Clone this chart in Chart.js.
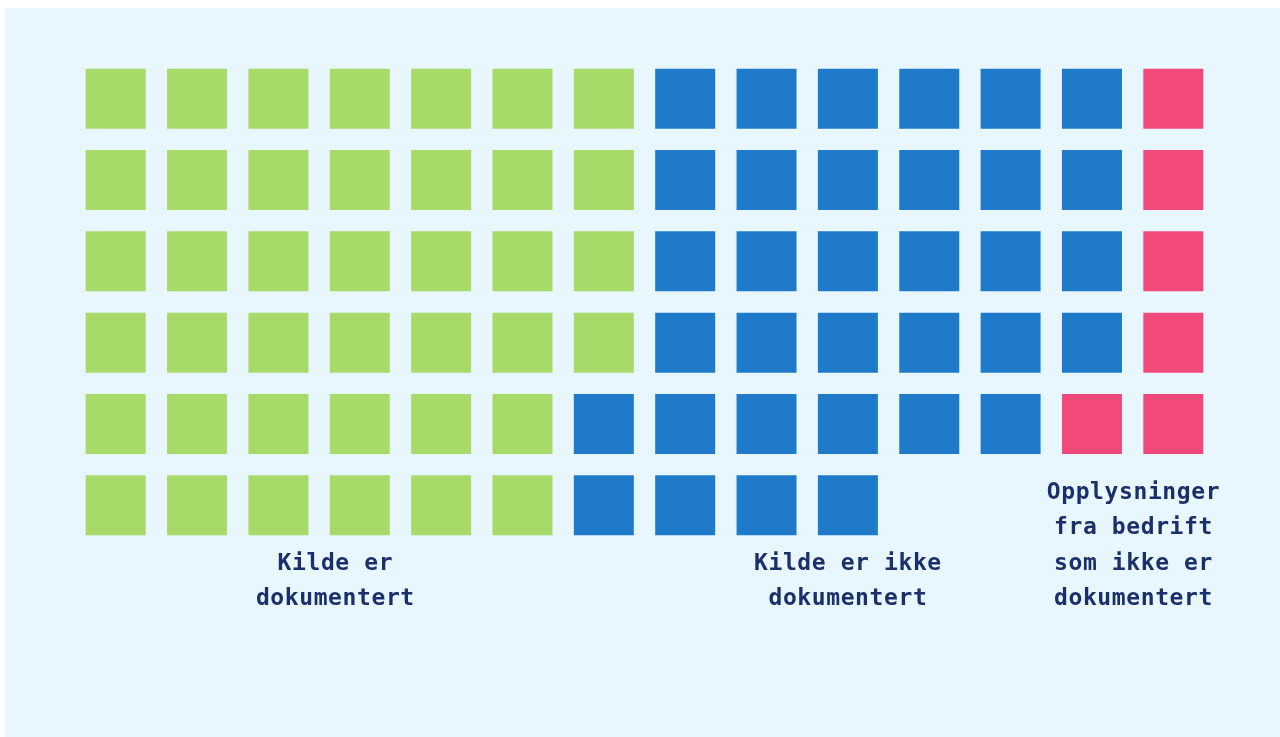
<!DOCTYPE html>
<html>
<head>
<meta charset="utf-8">
<script src="https://cdn.jsdelivr.net/npm/chart.js@4.4.1/dist/chart.umd.min.js"></script>
<style>
    html, body { margin: 0; padding: 0; background: #ffffff; }
    #wrap { position: absolute; left: 0; top: 0; width: 1280px; height: 737px; }
</style>
</head>
<body>
<div id="wrap"><canvas id="waffle"></canvas></div>
<script>
// Categories and number of squares per category
const categories = [
    ['Kilde er', 'dokumentert'],
    ['Kilde er ikke', 'dokumentert'],
    ['Opplysninger', 'fra bedrift', 'som ikke er', 'dokumentert']
];
const counts = [40, 34, 6];
const colors = ['#a8da6a', '#1f7bc9', '#f0497a'];

// Grid shape: squares per column, filled column by column from the top
const columnHeights = [6, 6, 6, 6, 6, 6, 6, 6, 6, 6, 5, 5, 5, 5];
// Horizontal label anchors, in column units
const labelColumns = [2.7, 9.0, 12.51];

const BG = '#e8f6fe';
const TEXT = '#1b2f6b';
const SQUARE = 60;

function buildCells() {
    const slots = [];
    columnHeights.forEach((h, col) => {
        for (let row = 0; row < h; row++) slots.push({ x: col, y: row });
    });
    let i = 0;
    return counts.map(n => {
        const pts = slots.slice(i, i + n);
        i += n;
        return pts;
    });
}

const cells = buildCells();

const background = {
    id: 'background',
    beforeDraw(chart) {
        const ctx = chart.ctx;
        ctx.save();
        ctx.fillStyle = BG;
        ctx.fillRect(5, 8, chart.width - 5, chart.height - 8);
        ctx.restore();
    }
};

const labels = {
    id: 'labels',
    afterDraw(chart) {
        const ctx = chart.ctx;
        const xs = chart.scales.x;
        const ys = chart.scales.y;
        const lastBaseline = ys.getPixelForValue(5) + 100;
        const lineHeight = 35.5;
        ctx.save();
        ctx.fillStyle = TEXT;
        ctx.font = 'bold 23px "DejaVu Sans Mono", monospace';
        ctx.letterSpacing = '0.6px';
        ctx.textAlign = 'center';
        ctx.textBaseline = 'alphabetic';
        categories.forEach((lines, k) => {
            const cx = xs.getPixelForValue(labelColumns[k]);
            lines.forEach((line, j) => {
                const y = lastBaseline - (lines.length - 1 - j) * lineHeight;
                ctx.fillText(line, cx, y);
            });
        });
        ctx.restore();
    }
};

new Chart(document.getElementById('waffle'), {
    type: 'scatter',
    data: {
        datasets: cells.map((pts, k) => ({
            label: categories[k].join(' '),
            data: pts,
            backgroundColor: colors[k],
            borderWidth: 0,
            pointStyle: 'rect',
            pointRadius: SQUARE / Math.SQRT2,
            pointHoverRadius: SQUARE / Math.SQRT2,
            pointBorderWidth: 0
        }))
    },
    options: {
        responsive: true,
        maintainAspectRatio: false,
        animation: false,
        events: [],
        layout: { padding: { left: 75, right: 66, top: 58, bottom: 191 } },
        plugins: {
            legend: { display: false },
            tooltip: { enabled: false }
        },
        scales: {
            x: { type: 'linear', min: -0.5, max: 13.5, display: false },
            y: { type: 'linear', min: -0.5, max: 5.5, reverse: true, display: false }
        }
    },
    plugins: [background, labels]
});
</script>
</body>
</html>
